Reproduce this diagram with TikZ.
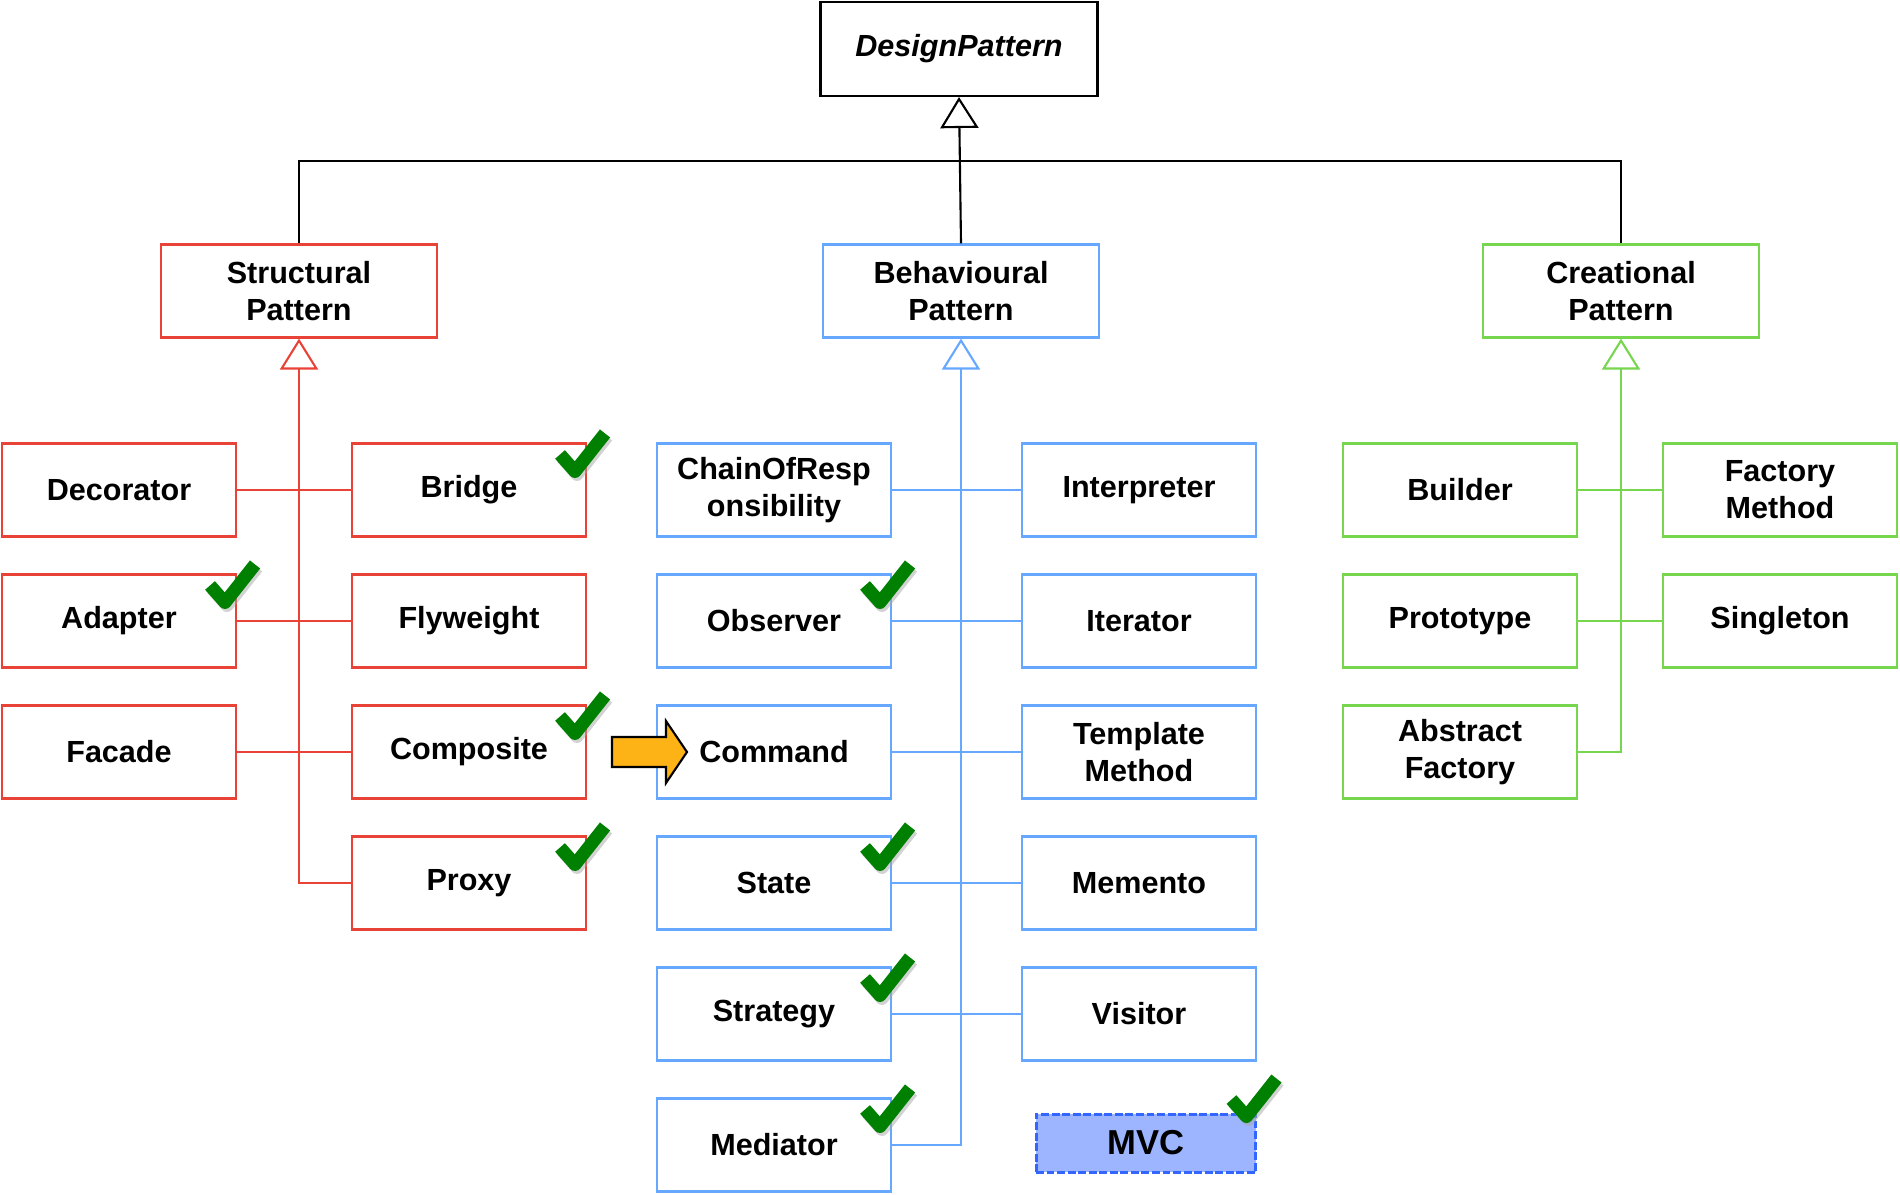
\documentclass[tikz,border=0pt]{standalone}
\usepackage{fontspec}
\setmainfont{Liberation Sans}
\usepackage{tikz}
\definecolor{structred}{RGB}{233, 67, 55}
\definecolor{behavblue}{RGB}{102, 168, 255}
\definecolor{creatgreen}{RGB}{118, 214, 78}
\definecolor{tickgreen}{RGB}{0, 128, 0}
\definecolor{mvcfill}{RGB}{157, 181, 255}
\definecolor{mvcline}{RGB}{51, 102, 255}
\definecolor{pointer}{RGB}{253, 178, 22}
\usetikzlibrary{arrows.meta, positioning, calc}

\begin{document}
\begin{tikzpicture}[
    x=0.02cm, y=-0.02cm,
    patbox/.style={draw, line width=1.2pt, fill=white, minimum width=4.68cm, minimum height=1.86cm,
                   inner sep=0pt, align=center, font=\fontsize{17.4}{21}\selectfont\bfseries},
    catbox/.style={patbox, minimum width=5.52cm},
    link/.style={line width=1.2pt},
    inherit/.style={link, -{Triangle[open, length=0.62cm, width=0.76cm]}},
    okmark/.pic={
        \draw[black!35, opacity=0.5, line width=0.26cm, line join=round] (-13,-14) -- (2,3) -- (32,-35);
        \draw[tickgreen, line width=0.26cm, line join=round] (-15,-17) -- (0,0) -- (30,-38);
    }
]
    \useasboundingbox (0,0) rectangle (1900,1194);

    % Top class
    \node[patbox, minimum width=5.54cm, minimum height=1.88cm, font=\fontsize{17.4}{21}\selectfont\bfseries\itshape] (dp) at (959,49) {DesignPattern};

    % Pattern families
    \node[catbox, draw=structred] (str) at (299,291) {Structural\\Pattern};
    \node[catbox, draw=behavblue] (beh) at (961,291) {Behavioural\\Pattern};
    \node[catbox, draw=creatgreen] (cre) at (1621,291) {Creational\\Pattern};

    % Structural patterns
    \node[patbox, draw=structred] (decorator) at (119,490) {Decorator};
    \node[patbox, draw=structred] (bridge) at (469,490) {Bridge};
    \node[patbox, draw=structred] (adapter) at (119,621) {Adapter};
    \node[patbox, draw=structred] (flyweight) at (469,621) {Flyweight};
    \node[patbox, draw=structred] (facade) at (119,752) {Facade};
    \node[patbox, draw=structred] (composite) at (469,752) {Composite};
    \node[patbox, draw=structred] (proxy) at (469,883) {Proxy};

    % Behavioural patterns
    \node[patbox, draw=behavblue] (chain) at (774,490) {ChainOfResp\\onsibility};
    \node[patbox, draw=behavblue] (interpreter) at (1139,490) {Interpreter};
    \node[patbox, draw=behavblue] (observer) at (774,621) {Observer};
    \node[patbox, draw=behavblue] (iterator) at (1139,621) {Iterator};
    \node[patbox, draw=behavblue] (command) at (774,752) {Command};
    \node[patbox, draw=behavblue] (template) at (1139,752) {Template\\Method};
    \node[patbox, draw=behavblue] (state) at (774,883) {State};
    \node[patbox, draw=behavblue] (memento) at (1139,883) {Memento};
    \node[patbox, draw=behavblue] (strategy) at (774,1014) {Strategy};
    \node[patbox, draw=behavblue] (visitor) at (1139,1014) {Visitor};
    \node[patbox, draw=behavblue] (mediator) at (774,1145) {Mediator};
    \node[patbox, draw=mvcline, fill=mvcfill, line width=1.7pt, dash pattern=on 4.5pt off 1.5pt,
          minimum width=4.4cm, minimum height=1.16cm, font=\fontsize{19.7}{23}\selectfont\bfseries] (mvc) at (1146,1143) {MVC};

    % Creational patterns
    \node[patbox, draw=creatgreen] (builder) at (1460,490) {Builder};
    \node[patbox, draw=creatgreen] (factory) at (1780,490) {Factory\\Method};
    \node[patbox, draw=creatgreen] (prototype) at (1460,621) {Prototype};
    \node[patbox, draw=creatgreen] (singleton) at (1780,621) {Singleton};
    \node[patbox, draw=creatgreen] (abstract) at (1460,752) {Abstract\\Factory};

    % Inheritance to the top class
    \coordinate (bus) at (960,161);
    \draw[inherit] (beh.north) -- (dp.south);
    \draw[link] (str.north) |- (bus) -| (cre.north);

    % Structural tree
    \draw[inherit, structred] (proxy.west) -| (str.south);
    \draw[link, structred] (decorator) -- (bridge);
    \draw[link, structred] (adapter) -- (flyweight);
    \draw[link, structred] (facade) -- (composite);

    % Behavioural tree
    \draw[inherit, behavblue] (mediator.east) -| (beh.south);
    \draw[link, behavblue] (chain) -- (interpreter);
    \draw[link, behavblue] (observer) -- (iterator);
    \draw[link, behavblue] (command) -- (template);
    \draw[link, behavblue] (state) -- (memento);
    \draw[link, behavblue] (strategy) -- (visitor);

    % Creational tree
    \draw[inherit, creatgreen] (abstract.east) -| (cre.south);
    \draw[link, creatgreen] (builder) -- (factory);
    \draw[link, creatgreen] (prototype) -- (singleton);

    % Pointer to Command
    \draw[link, fill=pointer] (612,737) -- (666,737) -- (666,721) -- (687,752) -- (666,783) -- (666,767) -- (612,767) -- cycle;

    % Done marks
    \foreach \n in {bridge, adapter, composite, proxy, observer, state, strategy, mediator}
        \pic at ([shift={(-12,29)}]\n.north east) {okmark};
    \pic at ([shift={(-11,4)}]mvc.north east) {okmark};
\end{tikzpicture}
\end{document}
